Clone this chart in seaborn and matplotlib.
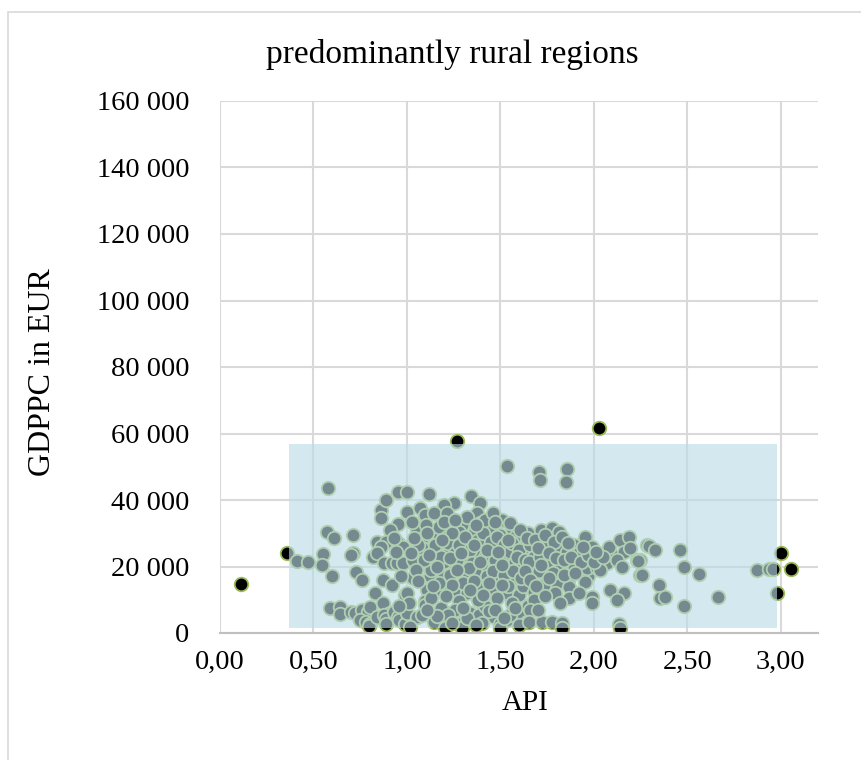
import pandas as pd
import matplotlib
matplotlib.use('Agg')
import matplotlib.pyplot as plt
import matplotlib.patches as mpatches
from matplotlib.ticker import FuncFormatter, MultipleLocator
import seaborn as sns

# API (x) and GDP per capita in thousand EUR (y)
api = [
    # left, sparse part
    0.11, 0.36, 0.41, 0.47, 0.55, 0.545, 0.60, 0.58, 0.57, 0.61, 0.71, 0.71, 0.70, 0.73, 0.76,
    0.59, 0.64, 0.64, 0.70, 0.72, 0.76, 0.79, 0.80, 0.75, 0.78, 0.80, 0.795, 0.84, 0.83, 0.87,
    0.91, 0.875, 0.89, 0.89, 0.93, 0.95, 0.96, 0.99, 0.82, 0.84, 0.86, 0.86, 0.89, 0.95, 0.95,
    0.91, 0.89, 0.955, 0.86, 0.84, 0.875, 0.92, 0.945, 0.87, 0.92, 1.00, 0.99, 1.00, 0.98, 0.98,
    # middle, dense part
    1.27, 1.536, 1.116, 1.344, 1.25, 1.393, 1.196, 1.07,
    1.098, 1.143, 1.214, 1.375, 1.509,
    1.054, 1.089, 1.143, 1.17, 1.214, 1.295, 1.33, 1.393, 1.429, 1.482, 1.562, 1.607, 1.277,
    1.366, 1.446, 1.50, 1.58,
    1.035, 1.116, 1.08, 1.161, 1.232, 1.259, 1.312, 1.375, 1.437, 1.50, 1.544, 1.616, 1.20,
    1.40, 1.62,
    1.035, 1.125, 1.196, 1.232, 1.303, 1.366, 1.429, 1.50, 1.571, 1.107, 1.188, 1.259, 1.321,
    1.393, 1.464, 1.536, 1.598, 1.00, 1.098,
    1.00, 1.054, 1.098, 1.143, 1.196, 1.214, 1.25, 1.295, 1.339, 1.384, 1.42, 1.464, 1.50,
    1.536, 1.607, 1.643, 1.018, 1.205, 1.295, 1.50,
    1.15, 1.18, 1.22, 1.26, 1.28, 1.31, 1.34, 1.35, 1.38, 1.41, 1.42, 1.45, 1.47, 1.48, 1.52,
    1.53, 1.55, 1.56, 1.58, 1.60, 1.24, 1.27, 1.33, 1.46, 1.52, 1.57, 1.13, 1.09, 1.06, 1.04,
    1.10, 1.20, 1.32, 1.42, 1.46, 1.30, 1.36, 1.24, 1.17, 1.44, 1.54, 1.05, 1.02, 1.13, 1.28,
    1.38, 1.48, 1.56, 1.62, 1.18, 1.26, 1.32, 1.44, 1.55, 1.08, 1.22, 1.40, 1.60, 1.65,
    1.12, 1.16, 1.19, 1.23, 1.27, 1.29, 1.36, 1.39, 1.43, 1.49, 1.51, 1.54, 1.59, 1.63,
    1.67, 1.69, 1.73, 1.77, 1.81, 1.87, 1.91, 1.95, 2.03, 2.10, 1.06, 1.14, 1.21, 1.34,
    1.41, 1.51, 1.61, 1.67, 1.77, 1.86, 1.97, 1.11, 1.26, 1.37, 1.47, 1.55, 1.65, 1.72,
    1.16, 1.24, 1.30, 1.37, 1.47, 1.52, 1.58, 1.11, 0.97, 0.94, 0.93, 1.03, 1.01, 0.96,
    # right-middle part
    2.026, 1.705, 1.714, 1.857, 1.853,
    1.776, 1.812, 1.955, 1.892, 1.99, 2.08, 2.142, 2.187, 2.16, 2.232, 2.285,
    1.66, 1.678, 1.651,
    2.25, 1.955, 1.803, 1.794, 1.866, 1.866, 1.678, 1.678, 1.99, 1.99, 2.089, 2.16, 2.125, 1.66,
    1.651, 1.723, 1.776, 1.83, 2.133, 2.139, 1.83,
    1.607, 1.643, 1.687, 1.741, 1.785, 1.83, 1.857, 1.919, 1.964, 2.018, 1.892, 1.821, 1.75,
    1.714, 1.705, 1.634, 1.66, 1.732, 2.071, 2.125, 2.151, 2.196, 2.035, 1.70, 1.76, 1.80,
    1.84, 1.88, 1.93, 1.97, 2.00, 1.78, 1.84, 1.90, 1.72, 1.76, 2.05, 1.86, 1.94, 2.01, 1.69,
    1.74, 1.82, 1.92, 1.70,
    # right, sparse part
    2.294, 2.33, 2.464, 2.25, 2.259, 2.482, 2.562, 2.348, 2.357, 2.383, 2.482, 2.664, 2.871,
    2.937, 2.957, 3.0, 3.057, 2.978, 2.236,
]
gdppc_k = [
    14.6, 24.0, 21.6, 21.4, 23.8, 20.4, 17.1, 43.7, 30.5, 28.5, 29.4, 24.0, 23.5, 18.4, 15.9,
    7.4, 7.9, 5.6, 6.4, 5.9, 6.9, 6.4, 7.9, 3.9, 3.4, 2.7, 2.0, 4.9, 12.0, 9.1,
    6.1, 5.4, 4.1, 2.7, 6.4, 4.9, 3.9, 2.7, 23.0, 27.5, 37.0, 34.6, 40.0, 42.5, 32.8,
    31.0, 27.5, 27.0, 26.0, 24.0, 21.0, 21.0, 21.0, 15.9, 14.4, 36.5, 11.4, 42.5, 26.0, 21.0,
    57.8, 50.3, 41.8, 41.2, 39.0, 39.0, 38.5, 37.6,
    35.5, 36.0, 36.0, 36.0, 34.0,
    31.0, 29.0, 28.5, 32.0, 29.0, 32.5, 27.5, 33.0, 25.5, 26.0, 31.5, 27.5, 30.5,
    31.0, 31.0, 29.5, 29.0,
    22.0, 20.5, 25.5, 24.0, 25.0, 20.5, 22.5, 24.0, 20.5, 23.0, 22.0, 24.5, 21.5,
    19.5, 19.5,
    16.5, 17.0, 17.0, 17.5, 18.0, 18.5, 17.0, 16.0, 15.0, 13.0, 12.5, 12.0, 12.0,
    14.0, 13.0, 12.0, 11.5, 12.0, 9.5,
    6.0, 4.9, 8.4, 3.4, 6.4, 3.9, 4.4, 2.9, 6.0, 5.4, 8.0, 4.9, 2.7,
    3.9, 6.0, 3.4, 1.9, 1.4, 1.4, 1.4,
    26.5, 23.0, 27.0, 24.0, 26.5, 29.0, 25.0, 21.0, 28.0, 30.0, 23.0, 27.5, 22.0, 29.0, 26.5,
    20.0, 24.5, 27.0, 21.5, 25.0, 30.0, 22.0, 19.5, 18.5, 17.5, 18.5, 19.0, 22.0, 26.5, 28.5,
    32.5, 33.5, 35.0, 34.0, 36.0, 15.0, 15.5, 14.5, 15.0, 15.0, 14.0, 19.0, 24.0, 10.5, 9.5,
    10.0, 10.5, 9.0, 14.0, 7.5, 7.0, 4.5, 6.5, 5.5, 5.5, 5.5, 3.0, 2.5, 8.0,
    23.5, 20.0, 28.0, 22.5, 19.0, 24.0, 26.5, 21.5, 25.0, 24.5, 20.5, 28.0, 23.0, 22.0,
    20.0, 26.5, 27.0, 22.0, 25.5, 21.0, 19.0, 22.5, 22.0, 23.5, 15.5, 14.0, 11.0, 13.0,
    11.5, 14.5, 16.5, 17.5, 13.0, 16.0, 17.0, 30.0, 34.0, 32.5, 33.5, 33.0, 30.0, 31.0,
    5.0, 3.0, 7.5, 2.5, 7.0, 4.5, 7.5, 7.0, 17.0, 24.5, 28.5, 33.5, 9.0, 8.0,
    61.6, 48.5, 46.0, 49.2, 45.5,
    31.5, 30.5, 29.0, 26.5, 26.0, 26.0, 28.0, 29.0, 24.5, 22.0, 26.5,
    26.5, 23.0, 21.5,
    17.4, 15.4, 14.9, 11.9, 13.9, 10.4, 12.4, 9.9, 10.9, 8.9, 12.9, 11.9, 9.9, 6.9,
    3.4, 3.4, 3.4, 2.9, 2.7, 1.6, 1.6,
    31.0, 28.5, 28.0, 29.5, 27.5, 29.0, 24.5, 24.0, 19.5, 19.5, 20.0, 20.0, 21.5,
    23.0, 18.5, 18.5, 16.0, 14.5, 21.0, 22.0, 20.0, 25.5, 19.0, 25.5, 24.0, 22.5,
    22.0, 23.0, 21.5, 23.5, 21.5, 18.0, 17.5, 18.0, 20.5, 16.5, 23.0, 27.0, 26.0, 24.5, 14.0,
    11.0, 9.0, 12.0, 7.0,
    26.2, 25.0, 25.0, 22.0, 17.4, 19.9, 17.7, 14.5, 10.6, 10.9, 8.1, 10.9, 19.0,
    19.2, 19.3, 24.2, 19.3, 12.0, 21.6,
]

# highlighted area (API range, GDPPC range)
box_api = [0.37, 2.98]
box_gdppc = [1500, 56800]

x_ticks = [0.0, 0.5, 1.0, 1.5, 2.0, 2.5, 3.0]
title = 'predominantly rural regions'

df = pd.DataFrame({'API': api, 'GDPPC': [v * 1000 for v in gdppc_k]})

sns.set_style('white')
plt.rcParams['font.family'] = ['Liberation Serif', 'DejaVu Serif']
plt.rcParams['text.color'] = 'black'

fig = plt.figure(figsize=(8.61, 7.6), dpi=100)
ax = fig.add_axes([220 / 861, 1 - 633 / 760, 598 / 861, 532 / 760])

sns.scatterplot(data=df, x='API', y='GDPPC', ax=ax, s=95, color='black',
                edgecolor='#9bbb59', linewidth=1.3, zorder=2)

ax.add_patch(mpatches.Rectangle((box_api[0], box_gdppc[0]),
                                box_api[1] - box_api[0], box_gdppc[1] - box_gdppc[0],
                                facecolor='#bbdbe6', alpha=0.63, edgecolor='none', zorder=3))

ax.set_xlim(0, 3.2)
ax.set_ylim(0, 160000)
ax.set_xticks(x_ticks)
ax.yaxis.set_major_locator(MultipleLocator(20000))
ax.xaxis.set_major_formatter(FuncFormatter(lambda v, p: f'{v:.2f}'.replace('.', ',')))
ax.yaxis.set_major_formatter(FuncFormatter(lambda v, p: f'{v:,.0f}'.replace(',', ' ')))
ax.grid(True, color='#d9d9d9', linewidth=1.5)
ax.set_axisbelow(True)
for side in ['top', 'right', 'left']:
    ax.spines[side].set_visible(False)
ax.spines['bottom'].set_color('#bfbfbf')
ax.spines['bottom'].set_linewidth(1.5)
ax.tick_params(axis='both', length=0, labelsize=20.5, labelcolor='black')
ax.tick_params(axis='y', pad=22)
ax.tick_params(axis='x', pad=12)
ax.set_xlabel('')
ax.set_ylabel('')

fig.text(452 / 861, 1 - 55 / 760, title, ha='center', va='center', fontsize=24)
fig.text(525 / 861, 1 - 703 / 760, 'API', ha='center', va='center', fontsize=21)
fig.text(43 / 861, 1 - 372 / 760, 'GDPPC in EUR', ha='center', va='center',
         rotation=90, fontsize=23)

fig.patches.append(mpatches.Rectangle((8 / 861, -0.1), 1.1, 1 - 12 / 760 + 0.1,
                                      transform=fig.transFigure, fill=False,
                                      edgecolor='#d9d9d9', linewidth=1.2))

fig.savefig('out.png', dpi=100)
